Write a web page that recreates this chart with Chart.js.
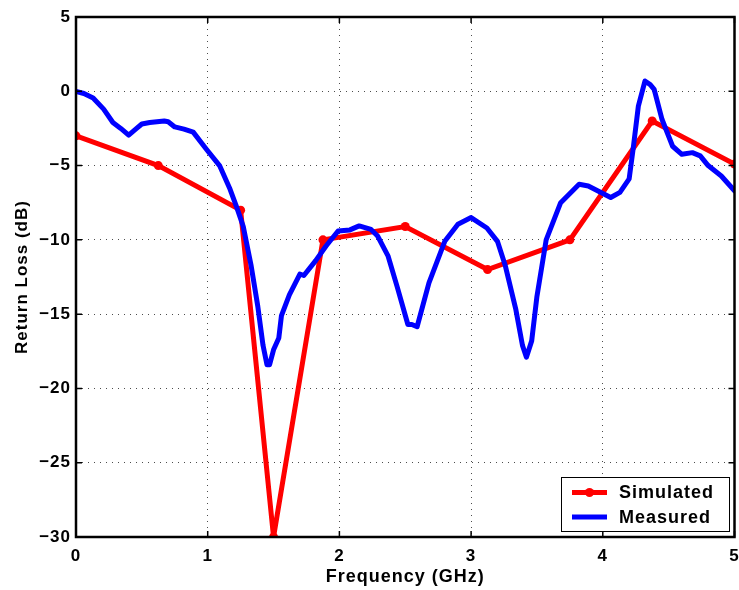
<!DOCTYPE html>
<html>
<head>
<meta charset="utf-8">
<title>Return Loss</title>
<script src="https://cdn.jsdelivr.net/npm/chart.js@4/dist/chart.umd.min.js"></script>
<style>
  html, body { margin: 0; padding: 0; background: #fff; }
  #wrap { width: 739px; height: 590px; }
</style>
</head>
<body>
<div id="wrap"><canvas id="rl" width="739" height="590"></canvas></div>
<script>
// Simulated return loss (GHz, dB)
const freqSim = [0, 0.625, 1.25, 1.5, 1.875, 2.5, 3.125, 3.75, 4.375, 5];
const rlSim   = [-3, -5, -8, -30, -10, -9.1, -12, -10, -2, -4.9];

// Measured return loss (GHz, dB)
const freqMeas = [0, 0.06, 0.13, 0.21, 0.28, 0.34, 0.40, 0.46, 0.50, 0.56, 0.67, 0.70, 0.75, 0.82, 0.89,
  0.99, 1.09, 1.17, 1.22, 1.27, 1.33, 1.38, 1.42, 1.45, 1.47, 1.50, 1.54, 1.56, 1.62, 1.70, 1.73,
  1.82, 1.90, 1.99, 2.08, 2.15, 2.24, 2.29, 2.37, 2.44, 2.52, 2.55, 2.59, 2.68, 2.80, 2.90, 3.00,
  3.12, 3.20, 3.26, 3.34, 3.39, 3.42, 3.46, 3.50, 3.57, 3.68, 3.82, 3.89, 4.06, 4.13, 4.20, 4.23,
  4.27, 4.32, 4.36, 4.39, 4.45, 4.53, 4.60, 4.68, 4.74, 4.80, 4.90, 5.00];
const rlMeas = [0, -0.15, -0.45, -1.2, -2.1, -2.5, -2.95, -2.5, -2.2, -2.1, -2.0, -2.05, -2.4, -2.55, -2.75,
  -3.9, -5.0, -6.6, -7.8, -9.1, -11.75, -14.45, -17.1, -18.4, -18.4, -17.4, -16.6, -15.1, -13.7, -12.3, -12.4,
  -11.4, -10.4, -9.4, -9.33, -9.06, -9.3, -9.74, -11.1, -13.2, -15.7, -15.7, -15.85, -12.9, -10.1, -8.95, -8.5,
  -9.2, -10.1, -11.75, -14.7, -17.1, -17.9, -16.8, -13.8, -10.0, -7.5, -6.26, -6.37, -7.15, -6.8, -5.9, -3.9,
  -1.0, 0.69, 0.45, 0.13, -1.9, -3.7, -4.24, -4.13, -4.35, -5.0, -5.7, -6.7];

// Axis ranges and tick values
const xTicks = [0, 1, 2, 3, 4, 5];
const yTicks = [5, 0, -5, -10, -15, -20, -25, -30];

const seriesNames = ['Simulated', 'Measured'];
const seriesColors = ['#ff0000', '#0000ff'];

const toPoints = (xs, ys) => xs.map((x, i) => ({ x: x, y: ys[i] }));
const minus = v => String(v).replace('-', '\u2212');

const FONT = 'Liberation Sans, Arial, Helvetica, sans-serif';

// Slightly widened lettering for all canvas text
const spacing = {
  id: 'spacing',
  beforeInit(chart) { chart.ctx.letterSpacing = '1px'; },
  beforeUpdate(chart) { chart.ctx.letterSpacing = '1px'; },
  beforeDraw(chart) { chart.ctx.letterSpacing = '1px'; }
};

// Box frame with inward tick marks on all four sides, plus the legend
const frame = {
  id: 'frame',
  afterDraw(chart) {
    const { ctx, chartArea: a, scales } = chart;
    const xs = scales.x, ys = scales.y;
    const tl = 6;
    ctx.save();
    ctx.strokeStyle = '#000';
    ctx.lineWidth = 1.5;
    ctx.beginPath();
    xTicks.forEach(v => {
      const px = xs.getPixelForValue(v);
      ctx.moveTo(px, a.bottom); ctx.lineTo(px, a.bottom - tl);
      ctx.moveTo(px, a.top); ctx.lineTo(px, a.top + tl);
    });
    yTicks.forEach(v => {
      const py = ys.getPixelForValue(v);
      ctx.moveTo(a.left, py); ctx.lineTo(a.left + tl, py);
      ctx.moveTo(a.right, py); ctx.lineTo(a.right - tl, py);
    });
    ctx.stroke();
    ctx.lineWidth = 2.5;
    ctx.strokeRect(a.left, a.top, a.right - a.left, a.bottom - a.top);

    // legend
    const bx = 561, by = 477, bw = 168, bh = 54;
    ctx.fillStyle = '#fff';
    ctx.fillRect(bx, by, bw, bh);
    ctx.lineWidth = 1;
    ctx.strokeStyle = '#000';
    ctx.strokeRect(bx + 0.5, by + 0.5, bw, bh);
    const rows = [by + 15.5, by + 40];
    ctx.font = 'bold 18px ' + FONT;
    ctx.textBaseline = 'middle';
    ctx.textAlign = 'left';
    seriesNames.forEach((name, i) => {
      const y = rows[i];
      ctx.strokeStyle = seriesColors[i];
      ctx.lineWidth = 5;
      ctx.beginPath();
      ctx.moveTo(572, y); ctx.lineTo(607, y);
      ctx.stroke();
      if (i === 0) {
        ctx.fillStyle = seriesColors[i];
        ctx.beginPath();
        ctx.arc(589.5, y, 4.5, 0, Math.PI * 2);
        ctx.fill();
      }
      ctx.fillStyle = '#000';
      ctx.fillText(name, 619, y + 1);
    });
    ctx.restore();
  }
};

new Chart(document.getElementById('rl'), {
  type: 'scatter',
  data: {
    datasets: [
      {
        label: seriesNames[0],
        data: toPoints(freqSim, rlSim),
        showLine: true,
        borderColor: seriesColors[0],
        backgroundColor: seriesColors[0],
        borderWidth: 5,
        pointRadius: 4.5,
        pointHoverRadius: 4.5,
        pointBorderWidth: 0,
        tension: 0,
        order: 2
      },
      {
        label: seriesNames[1],
        data: toPoints(freqMeas, rlMeas),
        showLine: true,
        borderColor: seriesColors[1],
        backgroundColor: seriesColors[1],
        borderWidth: 5,
        borderJoinStyle: 'round',
        borderCapStyle: 'round',
        pointRadius: 0,
        pointHoverRadius: 0,
        tension: 0,
        order: 1
      }
    ]
  },
  options: {
    responsive: false,
    animation: false,
    events: [],
    layout: { padding: { top: 17, right: 3, left: 0, bottom: 0 } },
    plugins: {
      legend: { display: false },
      tooltip: { enabled: false }
    },
    scales: {
      x: {
        type: 'linear',
        min: 0, max: 5,
        afterFit(s) { s.height = 53; s.paddingLeft = 0; s.paddingRight = 0; },
        afterBuildTicks(s) { s.ticks = xTicks.map(v => ({ value: v })); },
        border: { display: false, dash: [1, 5] },
        grid: {
          color: 'rgba(0,0,0,0.7)',
          lineWidth: 1,
          drawTicks: false
        },
        ticks: {
          padding: 9,
          color: '#000',
          font: { family: FONT, size: 17, weight: 'bold' },
          maxRotation: 0,
          callback: v => minus(v)
        },
        title: {
          display: true,
          text: 'Frequency (GHz)',
          color: '#000',
          font: { family: FONT, size: 18, weight: 'bold' },
          padding: { top: 0, bottom: 2 }
        }
      },
      y: {
        type: 'linear',
        min: -30, max: 5,
        afterFit(s) { s.width = 76; s.paddingTop = 0; s.paddingBottom = 0; },
        afterBuildTicks(s) { s.ticks = yTicks.map(v => ({ value: v })); },
        border: { display: false, dash: [1, 5] },
        grid: {
          color: 'rgba(0,0,0,0.7)',
          lineWidth: 1,
          drawTicks: false
        },
        ticks: {
          padding: 5,
          color: '#000',
          font: { family: FONT, size: 17, weight: 'bold' },
          callback: v => minus(v)
        },
        title: {
          display: true,
          text: 'Return Loss (dB)',
          color: '#000',
          font: { family: FONT, size: 17, weight: 'bold' },
          padding: { top: 12, bottom: 12 }
        }
      }
    }
  },
  plugins: [spacing, frame]
});
</script>
</body>
</html>
